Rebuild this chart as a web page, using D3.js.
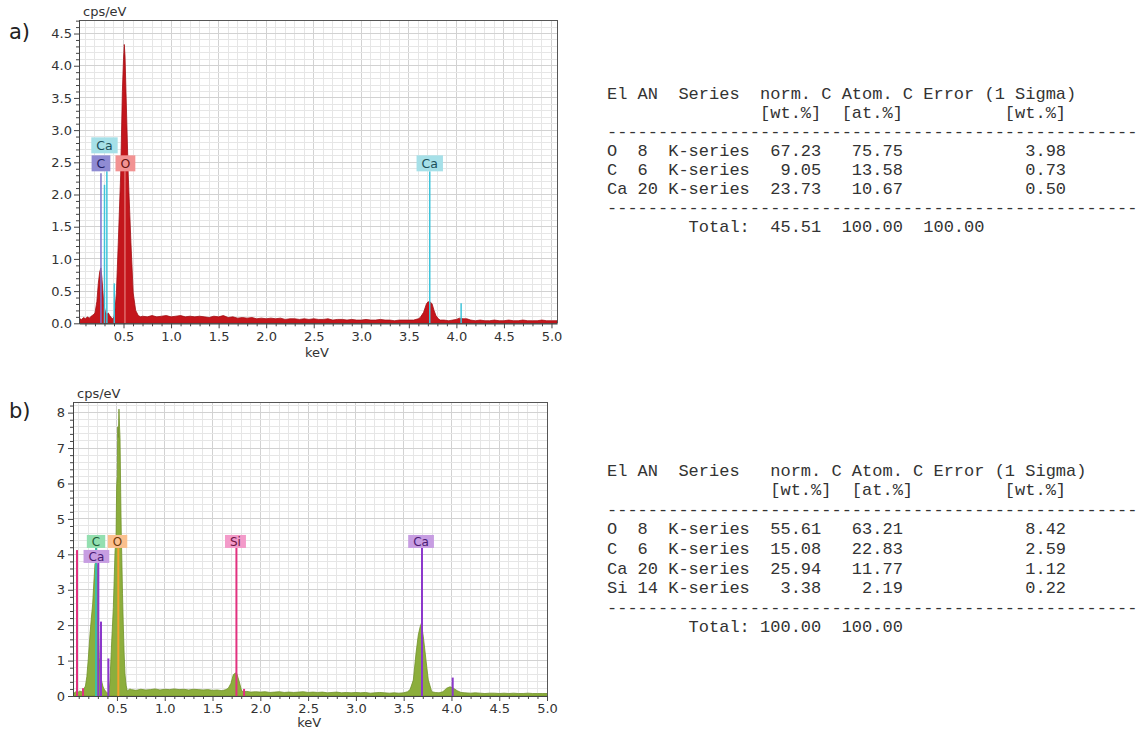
<!DOCTYPE html>
<html>
<head>
<meta charset="utf-8">
<script src="https://cdn.jsdelivr.net/npm/d3@7"></script>
<style>
body { margin: 0; background: #fff; }
svg text { font-family: "DejaVu Sans", Verdana, sans-serif; }
.tbl { font-family: "Liberation Mono", "Courier New", monospace; font-size: 17px; fill: #333; white-space: pre; }
</style>
</head>
<body>
<svg id="fig" width="1140" height="729"></svg>
<script>
// spectrum a) [keV, cps/eV]
var specA = [[0.032,0.00],[0.04,0.07],[0.06,0.06],[0.08,0.09],[0.10,0.07],[0.12,0.10],[0.14,0.08],[0.16,0.11],[0.18,0.13],[0.20,0.16],
  [0.22,0.34],[0.235,0.62],[0.25,0.80],[0.262,0.86],[0.272,0.72],[0.283,0.50],[0.295,0.28],[0.31,0.17],[0.325,0.14],[0.34,0.16],
  [0.355,0.12],[0.37,0.09],[0.385,0.07],[0.40,0.10],[0.41,0.20],[0.425,0.47],[0.445,1.25],[0.47,2.30],[0.488,3.60],[0.50,4.10],
  [0.508,4.33],[0.516,4.15],[0.526,3.60],[0.55,2.30],[0.578,1.25],[0.602,0.47],[0.628,0.20],[0.655,0.12],[0.68,0.10],
  [0.70,0.11],[0.75,0.10],[0.80,0.12],[0.85,0.10],[0.90,0.11],[0.95,0.12],[1.00,0.10],[1.05,0.11],[1.10,0.12],[1.15,0.10],
  [1.20,0.11],[1.25,0.10],[1.30,0.11],[1.35,0.10],[1.40,0.09],[1.45,0.11],[1.50,0.10],[1.55,0.12],[1.60,0.09],[1.65,0.10],
  [1.70,0.08],[1.75,0.09],[1.80,0.08],[1.85,0.09],[1.90,0.07],[1.95,0.08],[2.00,0.07],[2.05,0.08],[2.10,0.07],[2.15,0.08],
  [2.20,0.06],[2.25,0.07],[2.30,0.07],[2.35,0.06],[2.40,0.07],[2.45,0.06],[2.50,0.07],[2.55,0.06],[2.60,0.06],[2.65,0.07],
  [2.70,0.05],[2.75,0.06],[2.80,0.06],[2.85,0.05],[2.90,0.06],[2.95,0.05],[3.00,0.05],[3.05,0.06],[3.10,0.05],[3.15,0.05],
  [3.20,0.06],[3.25,0.05],[3.30,0.05],[3.35,0.04],[3.40,0.05],[3.45,0.05],[3.50,0.05],[3.55,0.05],[3.60,0.07],
  [3.62,0.09],[3.655,0.17],[3.685,0.30],[3.70,0.33],[3.72,0.34],[3.745,0.30],[3.765,0.20],[3.785,0.12],[3.81,0.07],[3.83,0.05],
  [3.87,0.05],[3.92,0.04],[3.96,0.05],[4.00,0.06],[4.03,0.08],[4.07,0.07],[4.11,0.07],[4.15,0.05],[4.20,0.04],[4.25,0.05],
  [4.30,0.04],[4.35,0.04],[4.40,0.05],[4.45,0.04],[4.50,0.04],[4.55,0.05],[4.60,0.04],[4.65,0.04],[4.70,0.05],[4.75,0.04],
  [4.80,0.04],[4.85,0.04],[4.90,0.05],[4.95,0.04],[5.00,0.04],[5.058,0.04]];

// spectrum b) [keV, cps/eV]
var specB = [[0.04,0.00],[0.05,0.08],[0.07,0.12],[0.09,0.10],[0.11,0.14],[0.13,0.12],[0.15,0.18],[0.17,0.28],[0.185,0.55],[0.20,1.05],
  [0.218,1.75],[0.232,2.20],[0.246,2.60],[0.258,3.20],[0.27,3.73],[0.282,3.78],[0.294,3.70],[0.305,2.10],[0.315,1.08],[0.328,0.62],
  [0.34,0.42],[0.352,0.28],[0.364,0.20],[0.38,0.14],[0.393,0.10],[0.409,0.07],[0.418,0.15],[0.427,0.42],[0.445,1.55],[0.462,2.50],
  [0.48,4.10],[0.49,4.40],[0.497,5.93],[0.503,6.20],[0.508,7.60],[0.514,7.30],[0.521,8.10],[0.527,7.60],[0.532,7.30],[0.539,5.75],
  [0.545,4.60],[0.55,4.00],[0.558,2.90],[0.566,2.03],[0.575,1.20],[0.584,0.62],[0.596,0.30],[0.608,0.14],[0.62,0.17],[0.636,0.20],
  [0.65,0.18],[0.70,0.16],[0.75,0.19],[0.80,0.17],[0.85,0.18],[0.90,0.20],[0.95,0.17],[1.00,0.19],[1.05,0.18],[1.10,0.20],
  [1.15,0.18],[1.20,0.19],[1.25,0.17],[1.30,0.19],[1.35,0.18],[1.40,0.17],[1.45,0.18],[1.50,0.16],[1.55,0.17],[1.60,0.15],[1.64,0.18],
  [1.665,0.22],[1.693,0.36],[1.717,0.60],[1.74,0.65],[1.753,0.64],[1.78,0.40],[1.805,0.14],[1.83,0.12],[1.86,0.13],[1.90,0.11],
  [1.95,0.12],[2.00,0.11],[2.05,0.12],[2.10,0.10],[2.15,0.11],[2.20,0.12],[2.25,0.10],[2.30,0.11],[2.35,0.10],[2.40,0.11],
  [2.45,0.12],[2.50,0.10],[2.55,0.11],[2.60,0.10],[2.65,0.11],[2.70,0.09],[2.75,0.10],[2.80,0.11],[2.85,0.09],[2.90,0.10],
  [2.95,0.09],[3.00,0.10],[3.05,0.09],[3.10,0.10],[3.15,0.08],[3.20,0.09],[3.25,0.10],[3.30,0.09],[3.35,0.08],[3.40,0.09],
  [3.45,0.08],[3.50,0.09],[3.54,0.12],
  [3.567,0.18],[3.601,0.45],[3.629,1.20],[3.653,1.72],[3.672,1.95],[3.685,2.05],[3.706,1.67],[3.734,1.00],[3.758,0.45],[3.794,0.12],
  [3.83,0.10],[3.87,0.09],[3.91,0.12],[3.95,0.22],[3.985,0.26],[4.02,0.22],[4.06,0.15],[4.10,0.10],[4.14,0.09],[4.20,0.08],
  [4.25,0.09],[4.30,0.08],[4.35,0.07],[4.40,0.08],[4.45,0.08],[4.50,0.07],[4.55,0.08],[4.60,0.07],[4.65,0.08],[4.70,0.07],
  [4.75,0.07],[4.80,0.08],[4.85,0.07],[4.90,0.07],[4.95,0.07],[5.005,0.07]];

// element lines: keV and height (cps/eV)
var linesA = [{el:"C",kev:0.263,h:2.33},{el:"Ca",kev:0.30,h:2.15},{el:"Ca",kev:0.325,h:2.36},{el:"Ca",kev:0.403,h:0.62},
  {el:"O",kev:0.515,h:2.36},{el:"Ca",kev:3.72,h:2.36},{el:"Ca",kev:4.05,h:0.31}];
var linesB = [{el:"Si",kev:0.082,h:4.12},{el:"Si",kev:0.145,h:0.22},{el:"C",kev:0.281,h:4.18},{el:"Ca",kev:0.305,h:3.77},
  {el:"Ca",kev:0.333,h:2.10},{el:"Ca",kev:0.41,h:1.06},{el:"O",kev:0.514,h:4.18},{el:"Si",kev:1.75,h:4.18},
  {el:"Si",kev:1.83,h:0.20},{el:"Ca",kev:3.692,h:4.18},{el:"Ca",kev:4.013,h:0.52}];

// element labels (row: stacking slot above/below label level)
var labelsA = [{el:"Ca",kev:0.30,row:1},{el:"C",kev:0.263,row:0},{el:"O",kev:0.52,row:0},{el:"Ca",kev:3.72,row:0}];
var labelsB = [{el:"C",kev:0.281,row:0},{el:"Ca",kev:0.285,row:-1},{el:"O",kev:0.506,row:0},{el:"Si",kev:1.74,row:0},{el:"Ca",kev:3.682,row:0}];
var labelLevelA = 2.36, labelLevelB = 4.18;

var xTicks = [0.5,1.0,1.5,2.0,2.5,3.0,3.5,4.0,4.5,5.0];
var yTicksA = [0.0,0.5,1.0,1.5,2.0,2.5,3.0,3.5,4.0,4.5];
var yTicksB = [0,1,2,3,4,5,6,7,8];

// quantification tables
var headA = ["El AN  Series  norm. C Atom. C Error (1 Sigma)", "               [wt.%]  [at.%]          [wt.%]"];
var headB = ["El AN  Series   norm. C Atom. C Error (1 Sigma)", "                [wt.%]  [at.%]         [wt.%]"];
var rowsA = [["O",8,"K-series",67.23,75.75,3.98],["C",6,"K-series",9.05,13.58,0.73],["Ca",20,"K-series",23.73,10.67,0.50]];
var rowsB = [["O",8,"K-series",55.61,63.21,8.42],["C",6,"K-series",15.08,22.83,2.59],["Ca",20,"K-series",25.94,11.77,1.12],["Si",14,"K-series",3.38,2.19,0.22]];
var totalA = [45.51, 100.00, 100.00];
var totalB = [100.00, 100.00];

var svg = d3.select("#fig");

var colA = {
  C:  {bg:"#8f8bd3", line:"#7d74c9", txt:"#1f1f66"},
  Ca: {bg:"#a6e0e8", line:"#3fc4da", txt:"#1b4f5a"},
  O:  {bg:"#f29292", line:"#e06a6a", txt:"#6a1212"}
};
var colB = {
  C:  {bg:"#93dfb0", line:"#3cbfa6", txt:"#1e5c37"},
  Ca: {bg:"#c79de2", line:"#8c38cb", txt:"#4a1b74"},
  O:  {bg:"#fbc08e", line:"#f3a02c", txt:"#6d3a0c"},
  Si: {bg:"#f39ac9", line:"#e2317f", txt:"#6e1444"}
};

function isMult(v, step) {
  return Math.abs(v / step - Math.round(v / step)) < 1e-6;
}

function panel(p) {
  var g = svg.append("g");
  var x = d3.scaleLinear().domain(p.xDom).range([p.left, p.right]);
  var y = d3.scaleLinear().domain(p.yDom).range([p.bottom, p.top]);

  var clipId = "clip" + p.id;
  svg.append("clipPath").attr("id", clipId).append("rect")
    .attr("x", p.left).attr("y", p.top).attr("width", p.right - p.left).attr("height", p.bottom - p.top);

  // grid
  var gx = d3.range(1, 51).map(function(i) { return i / 10; }).filter(function(d) { return d > p.xDom[0] && d < p.xDom[1]; });
  var gy = d3.range(1, 60).map(function(i) { return i * p.yMinor; }).filter(function(d) { return d < p.yDom[1]; });
  var grid = g.append("g").attr("shape-rendering", "crispEdges");
  grid.selectAll(".gx").data(gx).enter().append("line")
    .attr("x1", function(d) { return x(d); }).attr("x2", function(d) { return x(d); })
    .attr("y1", p.top).attr("y2", p.bottom)
    .attr("stroke", function(d) { return isMult(d, 0.5) ? "#d2d2d2" : "#e6e6e6"; });
  grid.selectAll(".gy").data(gy).enter().append("line")
    .attr("y1", function(d) { return y(d); }).attr("y2", function(d) { return y(d); })
    .attr("x1", p.left).attr("x2", p.right)
    .attr("stroke", function(d) { return isMult(d, p.yMajor) ? "#d2d2d2" : "#e6e6e6"; });

  // spectrum
  var area = d3.area()
    .x(function(d) { return x(d[0]); })
    .y0(y(0))
    .y1(function(d) { return y(d[1]); });
  g.append("path").datum(p.spec)
    .attr("clip-path", "url(#" + clipId + ")")
    .attr("d", area)
    .attr("fill", p.fill)
    .attr("stroke", p.stroke)
    .attr("stroke-width", 0.8);

  // element lines
  g.selectAll(".el").data(p.lines).enter().append("line")
    .attr("x1", function(d) { return x(d.kev); }).attr("x2", function(d) { return x(d.kev); })
    .attr("y1", y(0)).attr("y2", function(d) { return y(d.h); })
    .attr("stroke", function(d) { return p.col[d.el].line; })
    .attr("stroke-width", p.lineW);

  // element labels
  var ly = y(p.level);
  var lab = g.selectAll(".lab").data(p.labels).enter().append("g");
  lab.each(function(d) {
    var s = d3.select(this);
    var t = s.append("text").text(d.el)
      .attr("x", x(d.kev))
      .attr("text-anchor", "middle")
      .attr("font-size", p.labFont + "px")
      .attr("fill", p.col[d.el].txt);
    var w = t.node().getComputedTextLength() + p.labPad * 2;
    var top = ly - p.boxH - d.row * (p.boxH + 2);
    s.insert("rect", "text")
      .attr("x", x(d.kev) - w / 2).attr("y", top)
      .attr("width", w).attr("height", p.boxH)
      .attr("fill", p.col[d.el].bg);
    t.attr("y", top + p.boxH / 2).attr("dy", "0.36em");
  });

  // frame
  g.append("path")
    .attr("d", "M" + p.left + "," + p.top + "H" + p.right + "V" + p.bottom)
    .attr("fill", "none").attr("stroke", "#555").attr("shape-rendering", "crispEdges");

  // axes
  var minorX = d3.range(1, 51).map(function(i) { return i / 10; }).filter(function(d) { return d < p.xDom[1] && !isMult(d, 0.5); });
  var minorY = gy.filter(function(d) { return !isMult(d, p.yMajor); });

  var xa = g.append("g").attr("transform", "translate(0," + p.bottom + ")")
    .call(d3.axisBottom(x).tickValues(xTicks).tickSize(5).tickSizeOuter(0).tickPadding(3).tickFormat(d3.format(".1f")));
  var xm = g.append("g").attr("transform", "translate(0," + p.bottom + ")")
    .call(d3.axisBottom(x).tickValues(minorX).tickSize(3).tickSizeOuter(0).tickFormat(""));
  var ya = g.append("g").attr("transform", "translate(" + p.left + ",0)")
    .call(d3.axisLeft(y).tickValues(p.yTicks).tickSize(5).tickSizeOuter(0).tickPadding(p.yPad).tickFormat(d3.format(p.yFmt)));
  var ym = g.append("g").attr("transform", "translate(" + p.left + ",0)")
    .call(d3.axisLeft(y).tickValues(minorY).tickSize(3).tickSizeOuter(0).tickFormat(""));
  [xa, xm, ya, ym].forEach(function(a) {
    a.select(".domain").attr("stroke", "#444");
    a.selectAll(".tick line").attr("stroke", "#444");
    a.selectAll(".tick text").attr("fill", "#333").attr("font-size", "13px")
      .attr("font-family", "DejaVu Sans, Verdana, sans-serif");
  });

  g.append("text").text("cps/eV").attr("x", p.left + 4).attr("y", p.top - 4)
    .attr("font-size", "13px").attr("fill", "#333");
  g.append("text").text("keV").attr("x", (p.left + p.right) / 2 - 1).attr("y", p.bottom + p.keVdy)
    .attr("text-anchor", "middle").attr("font-size", "13px").attr("fill", "#333");
  svg.append("text").text(p.tag).attr("x", 9).attr("y", p.tagY)
    .attr("font-family", "Liberation Sans, Arial, sans-serif").attr("font-size", "21px").attr("fill", "#222");
}

panel({id:"A", tag:"a)", tagY:39, left:79, right:557, top:20, bottom:323.3, keVdy:34,
  xDom:[0.032, 5.058], yDom:[0, 4.71], yMinor:0.1, yMajor:0.5, yTicks:yTicksA, yFmt:".1f", yPad:2,
  spec:specA, fill:"#c4161c", stroke:"#a10f14", lines:linesA, labels:labelsA, level:labelLevelA,
  col:colA, lineW:1.5, labFont:12.5, labPad:5, boxH:16});

panel({id:"B", tag:"b)", tagY:418, left:73, right:547.5, top:402, bottom:696, keVdy:31,
  xDom:[0.04, 5.005], yDom:[0, 8.3], yMinor:0.2, yMajor:1, yTicks:yTicksB, yFmt:"d", yPad:3,
  spec:specB, fill:"#8cae3c", stroke:"#71922a", lines:linesB, labels:labelsB, level:labelLevelB,
  col:colB, lineW:2, labFont:12, labPad:5, boxH:13});

// tables
function pad(s, n) { s = String(s); while (s.length < n) s += " "; return s; }
function lpad(s, n) { s = String(s); while (s.length < n) s = " " + s; return s; }

function table(head, rows, total, x0, y0, dy) {
  var lines = head.slice();
  var dash = d3.range(52).map(function() { return "-"; }).join("");
  lines.push(dash);
  rows.forEach(function(r) {
    lines.push(pad(r[0], 2) + " " + pad(r[1], 2) + " " + r[2] + lpad(r[3].toFixed(2), 7) + lpad(r[4].toFixed(2), 8) + lpad(r[5].toFixed(2), 16));
  });
  lines.push(dash);
  var t = "        Total:" + lpad(total[0].toFixed(2), 7);
  total.slice(1).forEach(function(v) { t += lpad(v.toFixed(2), 8); });
  lines.push(t);
  svg.append("g").selectAll("text").data(lines).enter().append("text")
    .attr("class", "tbl")
    .attr("x", x0)
    .attr("y", function(d, i) { return y0 + i * dy; })
    .text(function(d) { return d; });
}

table(headA, rowsA, totalA, 607, 98.5, 19);
table(headB, rowsB, totalB, 607, 475.5, 19.6);
</script>
</body>
</html>
